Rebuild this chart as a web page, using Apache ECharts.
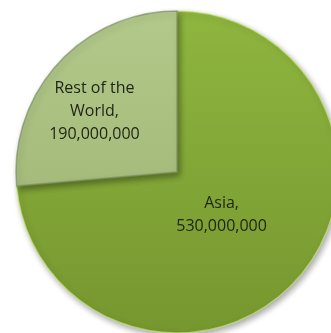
<!DOCTYPE html>
<html>
<head>
<meta charset="utf-8">
<script src="https://cdn.jsdelivr.net/npm/echarts@6/dist/echarts.min.js"></script>
<style>
  html, body { margin: 0; padding: 0; background: #ffffff; }
  #chart { width: 331px; height: 333px; }
</style>
</head>
<body>
<div id="chart"></div>
<script>
// Population by region
const regions = ['Asia', 'Rest of the World'];
const population = [530000000, 190000000];

// Slice fills (top colour, bottom colour) and edge tint
const sliceColors = [
  ['#8fb63f', '#76962f'],
  ['#b3c98b', '#a5bb7b']
];
const sliceEdges = ['rgba(200,235,120,0.6)', 'rgba(110,125,85,0.55)'];
// Label nudges relative to the default inside position
const labelShift = [[-17, -13], [-21, -4]];

const fmt = v => v.toString().replace(/\B(?=(\d{3})+(?!\d))/g, ',');
const labelText = name => name === 'Rest of the World' ? 'Rest of the\nWorld' : name;

const chart = echarts.init(document.getElementById('chart'), null, { renderer: 'canvas' });
chart.setOption({
  animation: false,
  series: [{
    type: 'pie',
    center: [177, 172],
    radius: [0, 161],
    startAngle: 90,
    clockwise: true,
    data: regions.map((name, i) => ({
      name: name,
      value: population[i],
      itemStyle: {
        borderColor: sliceEdges[i],
        color: new echarts.graphic.LinearGradient(0, 0, 0, 1, [
          { offset: 0, color: sliceColors[i][0] },
          { offset: 1, color: sliceColors[i][1] }
        ])
      }
    })),
    itemStyle: {
      borderWidth: 1.5,
      shadowBlur: 6,
      shadowOffsetX: 2,
      shadowOffsetY: 3,
      shadowColor: 'rgba(0,0,0,0.35)'
    },
    label: {
      show: true,
      position: 'inside',
      formatter: p => labelText(p.name) + ',\n' + fmt(p.value),
      fontFamily: 'Open Sans',
      fontSize: 16,
      lineHeight: 23,
      color: '#1e2412',
      align: 'center'
    },
    labelLine: { show: false },
    labelLayout: p => ({ dx: labelShift[p.dataIndex][0], dy: labelShift[p.dataIndex][1] }),
    emphasis: { disabled: true }
  }]
});
</script>
</body>
</html>
